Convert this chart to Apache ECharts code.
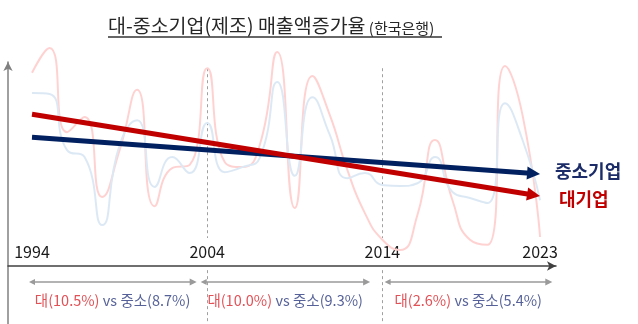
<!DOCTYPE html>
<html>
<head>
<meta charset="utf-8">
<script src="https://cdn.jsdelivr.net/npm/echarts@6/dist/echarts.min.js"></script>
<style>html,body{margin:0;padding:0;background:#fff}#c{width:638px;height:324px}</style>
</head>
<body>
<div id="c"></div>
<script>
// ---- data ----
const years = [1994,1995,1996,1997,1998,1999,2000,2001,2002,2003,2004,2005,2006,2007,2008,2009,2010,2011,2012,2013,2014,2015,2016,2017,2018,2019,2020,2021,2022,2023];
const largeGrowth = [22.0,27.4,9.1,12.4,-5.0,5.2,18.3,-7.0,1.3,2.0,23.0,2.6,1.5,6.3,26.5,-7.4,21.3,12.8,0.9,-8.5,-14.3,-16.5,-8.9,7.4,-5.7,-14.3,-15.4,23.5,12.8,-13.7];
const smeGrowth = [17.6,17.4,5.2,3.7,-11.1,6.3,11.7,-2.8,3.7,0.2,11.1,0.4,1.5,3.5,20.0,-0.4,16.7,8.5,-0.9,0.2,-2.4,-2.6,-2.0,3.7,-3.9,-5.2,-6.3,15.4,7.4,-5.7];
const trendYears = [1994, 2023];
const largeTrend = [13.0, -4.8];
const smeTrend = [8.0, 0.0];
const axisLabelYears = [1994, 2004, 2014, 2023];
const dividerYears = [2004, 2014];
const periodSpans = [[1994, 2003.2], [2003.8, 2013.1], [2014.3, 2023.5]];
const periodLarge = ['10.5%', '10.0%', '2.6%'];
const periodSme = ['8.7%', '9.3%', '5.4%'];
const titleMain = '대-중소기업(제조) 매출액증가율';
const titleSub = '(한국은행)';
const nameSme = '중소기업';
const nameLarge = '대기업';

// ---- layout / style ----
const FONT = "'Noto Sans CJK KR','Noto Sans',sans-serif";
const X_MIN = 1992.63, X_MAX = 2023.91;
const Y_MIN = -32.61, Y_MAX = 24.35;
const PX_PER_YEAR = 548 / (X_MAX - X_MIN);
const RED = '#C00000', NAVY = '#002060';
const dividerUpper = [23.0, -13.9], dividerLower = [-20.9, -32.6];
const annArrowVal = -23.5, annTextVal = -27.6;
const ARROW_LEN = 13;

function trendCoords(vals) {
  const back = (ARROW_LEN / 2) / PX_PER_YEAR;
  const y0 = trendYears[0], y1 = trendYears[1];
  const ye = y1 - back;
  const t = (ye - y0) / (y1 - y0);
  return [[y0, vals[0]], [ye, vals[0] + (vals[1] - vals[0]) * t]];
}

const chart = echarts.init(document.getElementById('c'), null, {renderer: 'canvas'});
const dividerData = [];
dividerYears.forEach(y => {
  dividerData.push({coords: [[y, dividerUpper[0]], [y, dividerUpper[1]]]});
  dividerData.push({coords: [[y, dividerLower[0]], [y, dividerLower[1]]]});
});

chart.setOption({
  animation: false,
  backgroundColor: '#fff',
  grid: {left: 8, right: 82, top: 62, bottom: 0, containLabel: false},
  xAxis: {
    type: 'value', min: X_MIN, max: X_MAX, offset: -58,
    axisLine: {show: true, onZero: false, symbol: ['none', 'arrow'], symbolSize: [7, 9], lineStyle: {color: '#404040', width: 1.5}},
    axisTick: {show: false}, splitLine: {show: false},
    axisLabel: {inside: true, customValues: axisLabelYears, margin: 6, fontSize: 16, color: '#1a1a1a', fontFamily: FONT, formatter: v => String(v)}
  },
  yAxis: {
    type: 'value', min: Y_MIN, max: Y_MAX,
    axisLine: {show: true, onZero: false, symbol: ['none', 'arrow'], symbolSize: [7, 9], lineStyle: {color: '#808080', width: 1.5}},
    axisTick: {show: false}, splitLine: {show: false}, axisLabel: {show: false}
  },
  series: [
    {type: 'lines', coordinateSystem: 'cartesian2d', clip: false, silent: true, z: 0,
     lineStyle: {color: '#a0a0a0', width: 1, type: [3, 3], opacity: 1}, symbol: 'none', data: dividerData},
    {type: 'line', name: 'large', clip: false, silent: true, smooth: 0.55, showSymbol: false, z: 1,
     lineStyle: {color: '#FFD2D2', width: 2}, data: years.map((y, i) => [y, largeGrowth[i]])},
    {type: 'line', name: 'sme', clip: false, silent: true, smooth: 0.55, showSymbol: false, z: 1,
     lineStyle: {color: '#DCE9F5', width: 2}, data: years.map((y, i) => [y, smeGrowth[i]])},
    {type: 'lines', coordinateSystem: 'cartesian2d', clip: false, silent: true, z: 3,
     symbol: ['none', 'triangle'], symbolSize: [13, ARROW_LEN],
     data: [
       {coords: trendCoords(smeTrend), lineStyle: {color: NAVY, width: 5, opacity: 1}},
       {coords: trendCoords(largeTrend), lineStyle: {color: RED, width: 5, opacity: 1}}
     ]},
    {type: 'lines', coordinateSystem: 'cartesian2d', clip: false, silent: true, z: 2,
     symbol: ['triangle', 'triangle'], symbolSize: [6, 7],
     lineStyle: {color: '#9a9a9a', width: 1.5, opacity: 1},
     data: periodSpans.map(s => ({coords: [[s[0], annArrowVal], [s[1], annArrowVal]]}))},
    {type: 'scatter', clip: false, silent: true, symbolSize: 0, z: 4,
     data: periodSpans.map(s => [(s[0] + s[1]) / 2, annTextVal]),
     label: {show: true, position: 'inside',
       formatter: p => '{a|대(' + periodLarge[p.dataIndex] + ')} {b|vs 중소(' + periodSme[p.dataIndex] + ')}',
       rich: {a: {color: '#D9262C', fontSize: 14.5, fontFamily: FONT}, b: {color: '#2B3A7E', fontSize: 14.5, fontFamily: FONT}}}}
  ],
  graphic: [
    {type: 'text', x: 108, y: 26, style: {
      text: '{a|' + titleMain + '} {b|' + titleSub + '}', verticalAlign: 'middle',
      rich: {a: {fontSize: 19.5, fill: '#262626', fontFamily: FONT, verticalAlign: 'bottom'},
             b: {fontSize: 15, fill: '#262626', fontFamily: FONT, verticalAlign: 'bottom'}}}},
    {type: 'line', shape: {x1: 108, y1: 37, x2: 442, y2: 37}, style: {stroke: '#333', lineWidth: 1.3}},
    {type: 'text', x: 555, y: 171, style: {text: nameSme, fill: '#1B2C68', font: 'bold 18px ' + FONT, verticalAlign: 'middle'}},
    {type: 'text', x: 559, y: 199, style: {text: nameLarge, fill: RED, font: 'bold 18px ' + FONT, verticalAlign: 'middle'}}
  ]
});
</script>
</body>
</html>
